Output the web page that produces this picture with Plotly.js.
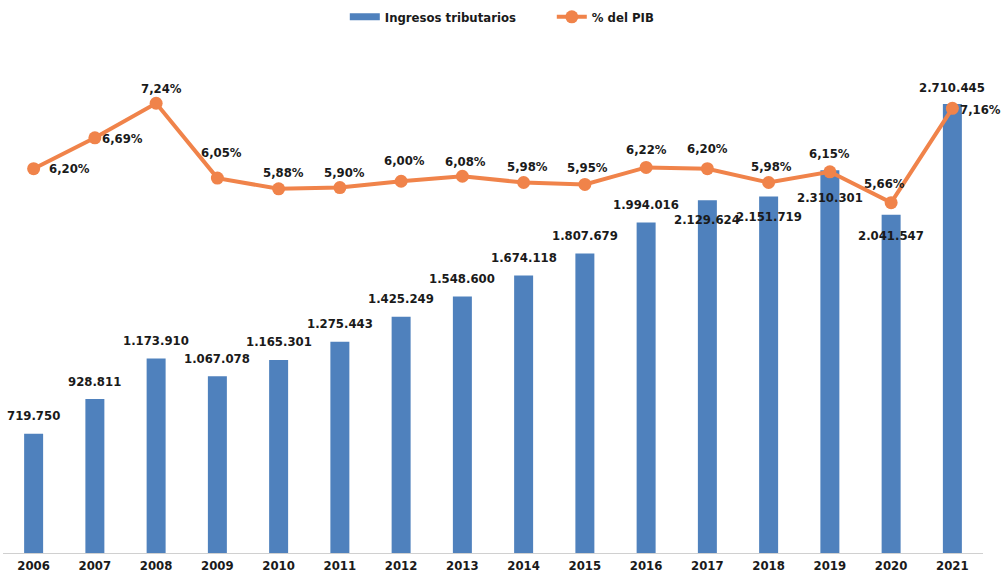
<!DOCTYPE html>
<html>
<head>
<meta charset="utf-8">
<script src="https://cdn.plot.ly/plotly-3.0.1.min.js"></script>
<style>html,body{margin:0;padding:0;background:#fff;}#chart{width:1001px;height:578px;}</style>
</head>
<body>
<div id="chart"></div>
<script>
const years = ['2006','2007','2008','2009','2010','2011','2012','2013','2014','2015','2016','2017','2018','2019','2020','2021'];
const ingresos = [719750, 928811, 1173910, 1067078, 1165301, 1275443, 1425249, 1548600, 1674118, 1807679, 1994016, 2129624, 2151719, 2310301, 2041547, 2710445];
const pctPIB = [6.20, 6.69, 7.24, 6.05, 5.88, 5.90, 6.00, 6.08, 5.98, 5.95, 6.22, 6.20, 5.98, 6.15, 5.66, 7.16];

// label offsets (pixels) — layout only
const barLabelShift = [18,18,18,18,18,18,18,18,18,18,18,-19,-20,-27,-21,16];
const pctLabelX = [36,28,5,4,5,5,3,3,4,3,0,0,3,0,-7,28];
const pctLabelY = [0,-1,15,26,16,15,21,15,16,17,18,20,16,18,19,-1];

const FONT = 'DejaVu Sans Condensed, DejaVu Sans, sans-serif';
const BLUE = '#4F81BD';
const ORANGE = '#F0834A';

function fmtNum(v){
  return String(v).replace(/\B(?=(\d{3})+(?!\d))/g, '.');
}
function fmtPct(v){
  return v.toFixed(2).replace('.', ',') + '%';
}

const traces = [
  {
    type:'bar', name:'Ingresos tributarios', x: years, y: ingresos,
    marker:{color: BLUE}, width: 0.31, showlegend:false, legendgroup:'ing'
  },
  {
    // legend-only swatch for the bars (wide bar-like key as in the original)
    type:'scatter', mode:'lines', name:'Ingresos tributarios', x:[null], y:[null],
    line:{color: BLUE, width:7}, legendgroup:'ing', showlegend:true, hoverinfo:'skip'
  },
  {
    type:'scatter', mode:'lines+markers', name:'% del PIB', x: years, y: pctPIB,
    yaxis:'y2', line:{color: ORANGE, width:4}, marker:{color: ORANGE, size:13}
  }
];

const annotations = [];
years.forEach((yr, i) => {
  annotations.push({
    x: i, y: ingresos[i], xref:'x', yref:'y', text: fmtNum(ingresos[i]),
    showarrow:false, yshift: barLabelShift[i], xanchor:'center', yanchor:'middle',
    font:{family: FONT, size:13, color:'#1a1a1a', weight:'bold'}
  });
  annotations.push({
    x: i, y: pctPIB[i], xref:'x', yref:'y2', text: fmtPct(pctPIB[i]),
    showarrow:false, xshift: pctLabelX[i], yshift: pctLabelY[i], xanchor:'center', yanchor:'middle',
    font:{family: FONT, size:13, color:'#1a1a1a', weight:'bold'}
  });
});

const layout = {
  width:1001, height:578,
  margin:{l:3, r:18, t:40, b:25, pad:0},
  paper_bgcolor:'#fff', plot_bgcolor:'#fff',
  font:{family: FONT, size:13, color:'#1a1a1a', weight:'bold'},
  showlegend:true,
  legend:{orientation:'h', x:0.56, xanchor:'center', y:1.045, yanchor:'middle',
          entrywidth:162, entrywidthmode:'pixels',
          font:{family: FONT, size:13, color:'#1a1a1a', weight:'bold'}, traceorder:'normal'},
  xaxis:{type:'category', range:[-0.5, 15.5], autorange:false, showgrid:false, zeroline:false, showline:true, linecolor:'#d0d0d0', linewidth:1,
         ticks:'', automargin:false, tickfont:{family: FONT, size:13, color:'#1a1a1a', weight:'bold'}},
  yaxis:{range:[0, 3090000], autorange:false, visible:false, showgrid:false, zeroline:false},
  yaxis2:{range:[0.09, 8.23], autorange:false, overlaying:'y', side:'right', visible:false, showgrid:false, zeroline:false},
  annotations: annotations
};

Plotly.newPlot('chart', traces, layout, {displayModeBar:false, staticPlot:true});
</script>
</body>
</html>
